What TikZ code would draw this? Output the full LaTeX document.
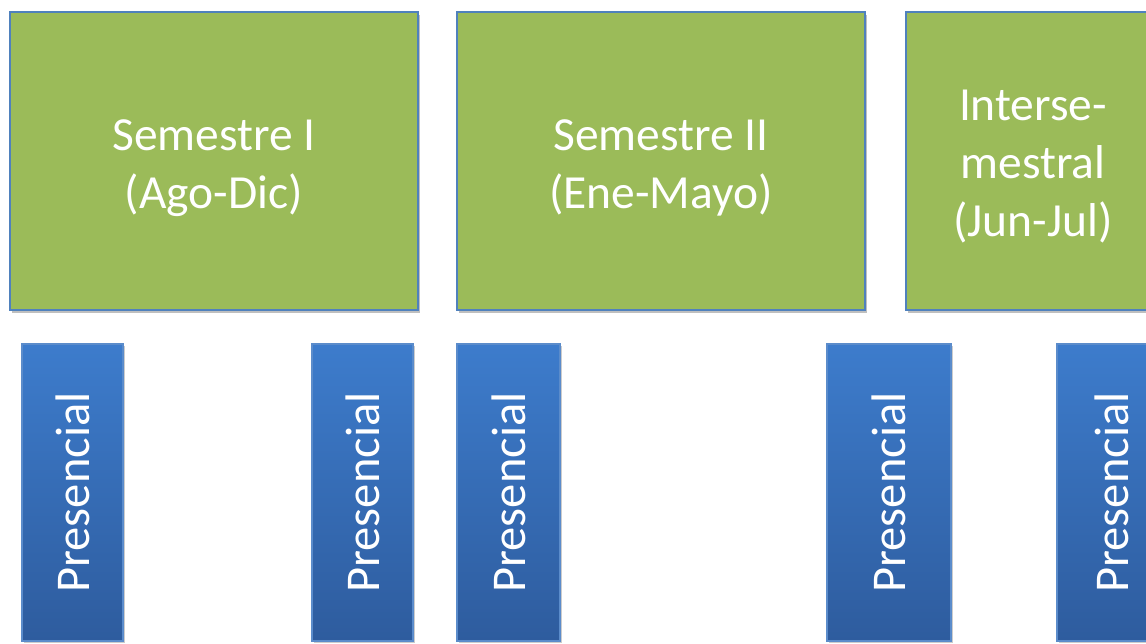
\documentclass[tikz,border=0pt]{standalone}
\usepackage{fontspec}
\setmainfont{Carlito}
\usetikzlibrary{shadows}
\definecolor{boxgreen}{HTML}{9BBB59}
\definecolor{boxborder}{HTML}{4F81BD}
\definecolor{bartop}{HTML}{3D7CCC}
\definecolor{barbot}{HTML}{2E5C9E}
\definecolor{barborder}{HTML}{5B8CCB}
\tikzset{
  greenbox/.style={draw=boxborder, line width=2pt, fill=boxgreen, inner sep=0pt,
    drop shadow={shadow xshift=2pt, shadow yshift=-3pt, opacity=0.25, fill=black}},
  boxtext/.style={text=white, align=center, inner sep=0pt, font=\fontsize{47.5}{58}\selectfont},
  bluebar/.style={draw=barborder, line width=1.2pt, top color=bartop, bottom color=barbot},
  bartext/.style={text=white, rotate=90, font=\fontsize{48.5}{53}\selectfont, inner sep=0pt}
}
\begin{document}
\begin{tikzpicture}[x=1pt,y=-1pt]
\useasboundingbox (0,0) rectangle (1146,643);
\clip (0,0) rectangle (1146,643);
% green boxes
\node[greenbox, minimum width=408pt, minimum height=298pt] (s1) at (214,161) {};
\node[greenbox, minimum width=408pt, minimum height=298pt] (s2) at (661,161) {};
\node[greenbox, minimum width=254pt, minimum height=298pt] (s3) at (1033,161) {};
\node[boxtext] (t1) at ([yshift=-7pt]s1.center) {Semestre I\\(Ago-Dic)};
\node[boxtext] (t2) at ([yshift=-7pt]s2.center) {Semestre II\\(Ene-Mayo)};
\node[boxtext] (t3) at ([yshift=-6pt]s3.center) {Interse-\\mestral\\(Jun-Jul)};
% blue bars
\foreach \n/\l/\r in {b1/22/123, b2/312/413, b3/457/560, b4/827/951, b5/1057/1167}{
  \draw[bluebar, drop shadow={shadow xshift=2pt, shadow yshift=-2pt, opacity=0.2, fill=black}] (\l,344) rectangle (\r,641);
  \node[bartext] (\n) at ({(\l+\r)/2},492.5) {Presencial};
}
\end{tikzpicture}
\end{document}
